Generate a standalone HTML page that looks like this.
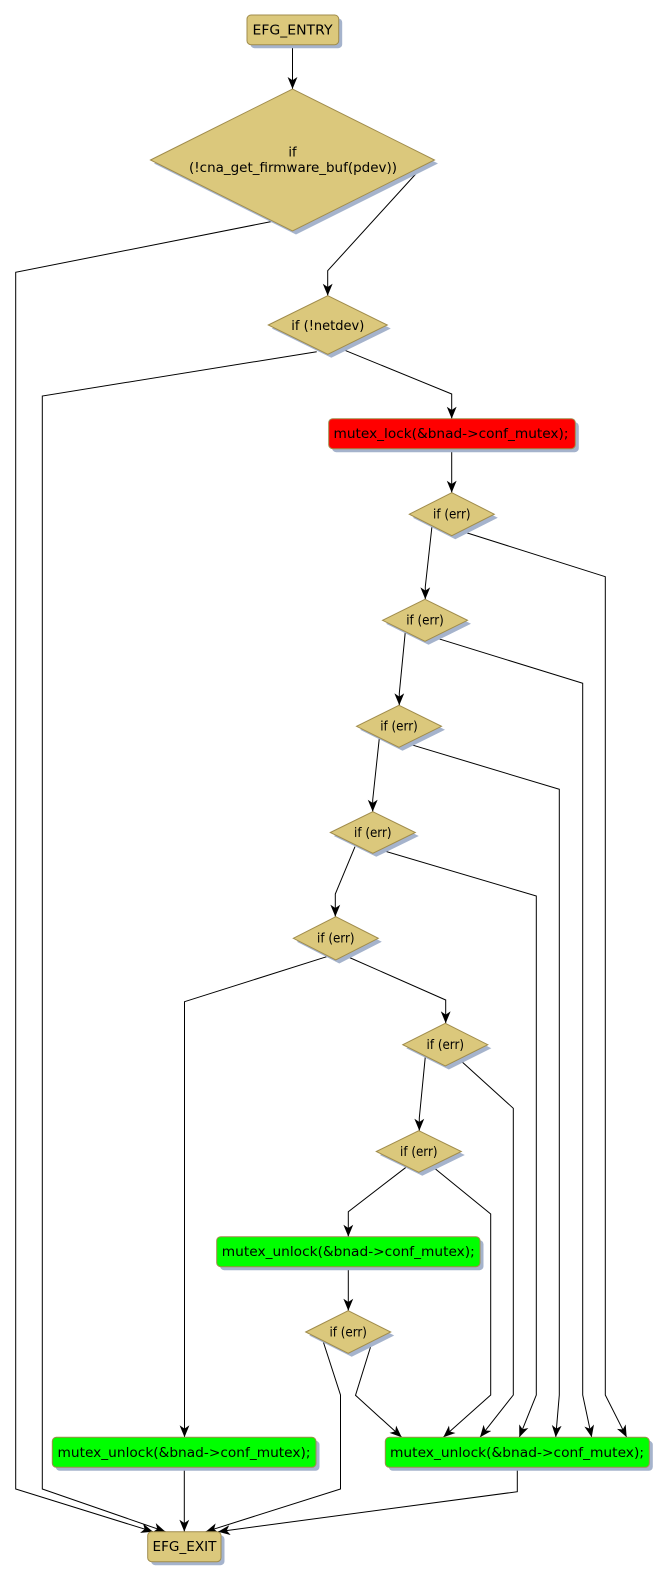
<!DOCTYPE html>
<html>
<head>
<meta charset="utf-8">
<style>
  html, body { margin: 0; padding: 0; background: #ffffff; }
  svg { display: block; }
  text { font-family: "DejaVu Sans", "Liberation Sans", sans-serif; font-size: 13px; fill: #000; }
</style>
</head>
<body>
<svg width="668" height="1580" viewBox="0 0 668 1580" xmlns="http://www.w3.org/2000/svg">
  <defs>
    <marker id="a" markerUnits="userSpaceOnUse" markerWidth="12" markerHeight="10" viewBox="0 0 11 9" refX="11" refY="4.5" orient="auto">
      <path d="M0,0 L11,4.5 L0,9 L3,4.5 z" fill="#000"/>
    </marker>
  </defs>

  <!-- edges -->
  <g fill="none" stroke="#000" stroke-width="1">
    <polyline points="292.5,44.7 292.5,89" marker-end="url(#a)"/>
    <polyline points="423,166 327.7,270.7 327.7,295.7" marker-end="url(#a)"/>
    <polyline points="271.7,221.5 15.7,272.3 15.7,1489 153,1531.7" marker-end="url(#a)"/>
    <polyline points="316.7,351.7 42.3,396 42.3,1489 165.5,1531.7" marker-end="url(#a)"/>
    <polyline points="340,348.3 451.7,394 451.7,418.7" marker-end="url(#a)"/>
    <polyline points="451.7,448.7 451.7,492.7" marker-end="url(#a)"/>
    <polyline points="432,526 425.3,586.7 425.3,599.3" marker-end="url(#a)"/>
    <polyline points="461,531 605.3,576.7 605.3,1395 626.7,1437.3" marker-end="url(#a)"/>
    <polyline points="405.3,631.7 399.3,693.3 399.3,705.3" marker-end="url(#a)"/>
    <polyline points="434,637.3 582.7,683.3 582.7,1395 591.7,1437.3" marker-end="url(#a)"/>
    <polyline points="379.3,738.3 372.7,800 372.7,811.7" marker-end="url(#a)"/>
    <polyline points="406.7,743.3 559.3,789.3 559.3,1395 555.7,1437.3" marker-end="url(#a)"/>
    <polyline points="355,846.7 335.3,894 335.3,916.7" marker-end="url(#a)"/>
    <polyline points="381,850 536.3,896 536.3,1395 519.3,1437.3" marker-end="url(#a)"/>
    <polyline points="326.7,956.7 184.5,1001.7 184.5,1437.3" marker-end="url(#a)"/>
    <polyline points="346,956 445.7,1000 445.7,1023.3" marker-end="url(#a)"/>
    <polyline points="425.3,1056.7 419.3,1118 419.3,1130.7" marker-end="url(#a)"/>
    <polyline points="460,1060 513.3,1108.3 513.3,1395 480,1437.3" marker-end="url(#a)"/>
    <polyline points="406,1167.3 348.3,1211.7 348.3,1236.7" marker-end="url(#a)"/>
    <polyline points="432.7,1166.7 490.7,1214 490.7,1395 443.3,1437.3" marker-end="url(#a)"/>
    <polyline points="348.3,1266.7 348.3,1310.7" marker-end="url(#a)"/>
    <polyline points="322.7,1340 340.5,1395 340.5,1489 205.7,1531.7" marker-end="url(#a)"/>
    <polyline points="372.7,1340 355.5,1395.3 401.7,1437.3" marker-end="url(#a)"/>
    <polyline points="184.3,1467.3 184.3,1531.7" marker-end="url(#a)"/>
    <polyline points="517.3,1467.3 517.3,1491.7 218,1531.7" marker-end="url(#a)"/>
  </g>

  <!-- shadows -->
  <g fill="#a5b3cc" transform="translate(3.5,3.5)">
    <rect x="247" y="15" width="91.7" height="29.7" rx="4"/>
    <polygon points="150.5,160 292.5,89 434.5,160 292.5,231"/>
    <polygon points="268.3,325 327.8,295.7 387.3,325 327.8,354.3"/>
    <rect x="328.7" y="418.7" width="246.6" height="30" rx="4"/>
    <polygon points="409.3,514.2 451.8,492.7 494.3,514.2 451.8,535.7"/>
    <polygon points="382.5,620.3 425,599.3 467.5,620.3 425,641.3"/>
    <polygon points="356.5,726.3 399,705.3 441.5,726.3 399,747.3"/>
    <polygon points="330.3,832.5 372.8,811.7 415.3,832.5 372.8,853.3"/>
    <polygon points="293.3,938.3 335.8,916.7 378.3,938.3 335.8,960"/>
    <polygon points="402.8,1044.7 445.3,1023.3 487.8,1044.7 445.3,1066"/>
    <polygon points="376.3,1151.5 418.8,1130.7 461.3,1151.5 418.8,1172.3"/>
    <rect x="216.7" y="1236.7" width="263.3" height="30" rx="4"/>
    <polygon points="305.7,1332 348.2,1310.7 390.7,1332 348.2,1353.3"/>
    <rect x="52.3" y="1437.3" width="263.7" height="30" rx="4"/>
    <rect x="385.3" y="1437.3" width="264" height="30" rx="4"/>
    <rect x="147.7" y="1531.7" width="73.3" height="30" rx="4"/>
  </g>

  <!-- nodes -->
  <g stroke="#a08c4c" stroke-width="1">
    <rect x="247" y="15" width="91.7" height="29.7" rx="4" fill="#dbc87c"/>
    <polygon points="150.5,160 292.5,89 434.5,160 292.5,231" fill="#dbc87c"/>
    <polygon points="268.3,325 327.8,295.7 387.3,325 327.8,354.3" fill="#dbc87c"/>
    <rect x="328.7" y="418.7" width="246.6" height="30" rx="4" fill="#ff0000"/>
    <polygon points="409.3,514.2 451.8,492.7 494.3,514.2 451.8,535.7" fill="#dbc87c"/>
    <polygon points="382.5,620.3 425,599.3 467.5,620.3 425,641.3" fill="#dbc87c"/>
    <polygon points="356.5,726.3 399,705.3 441.5,726.3 399,747.3" fill="#dbc87c"/>
    <polygon points="330.3,832.5 372.8,811.7 415.3,832.5 372.8,853.3" fill="#dbc87c"/>
    <polygon points="293.3,938.3 335.8,916.7 378.3,938.3 335.8,960" fill="#dbc87c"/>
    <polygon points="402.8,1044.7 445.3,1023.3 487.8,1044.7 445.3,1066" fill="#dbc87c"/>
    <polygon points="376.3,1151.5 418.8,1130.7 461.3,1151.5 418.8,1172.3" fill="#dbc87c"/>
    <rect x="216.7" y="1236.7" width="263.3" height="30" rx="4" fill="#00ff00"/>
    <polygon points="305.7,1332 348.2,1310.7 390.7,1332 348.2,1353.3" fill="#dbc87c"/>
    <rect x="52.3" y="1437.3" width="263.7" height="30" rx="4" fill="#00ff00"/>
    <rect x="385.3" y="1437.3" width="264" height="30" rx="4" fill="#00ff00"/>
    <rect x="147.7" y="1531.7" width="73.3" height="30" rx="4" fill="#dbc87c"/>
  </g>

  <!-- labels -->
  <g text-anchor="middle">
    <text x="292.5" y="34.7" textLength="80" lengthAdjust="spacingAndGlyphs">EFG_ENTRY</text>
    <text x="292.5" y="156.5">if</text>
    <text x="293" y="172" textLength="208" lengthAdjust="spacingAndGlyphs">(!cna_get_firmware_buf(pdev))</text>
    <text x="327.8" y="330" textLength="73" lengthAdjust="spacingAndGlyphs">if (!netdev)</text>
    <text x="451" y="438" textLength="235" lengthAdjust="spacingAndGlyphs">mutex_lock(&amp;bnad-&gt;conf_mutex);</text>
    <text x="451.8" y="518.5" textLength="37.5" lengthAdjust="spacingAndGlyphs">if (err)</text>
    <text x="425" y="624.6" textLength="37.5" lengthAdjust="spacingAndGlyphs">if (err)</text>
    <text x="399" y="730.6" textLength="37.5" lengthAdjust="spacingAndGlyphs">if (err)</text>
    <text x="372.8" y="836.8" textLength="37.5" lengthAdjust="spacingAndGlyphs">if (err)</text>
    <text x="335.8" y="942.6" textLength="37.5" lengthAdjust="spacingAndGlyphs">if (err)</text>
    <text x="445.3" y="1049" textLength="37.5" lengthAdjust="spacingAndGlyphs">if (err)</text>
    <text x="418.8" y="1155.8" textLength="37.5" lengthAdjust="spacingAndGlyphs">if (err)</text>
    <text x="348.3" y="1256.2" textLength="253" lengthAdjust="spacingAndGlyphs">mutex_unlock(&amp;bnad-&gt;conf_mutex);</text>
    <text x="348.2" y="1336.3" textLength="37.5" lengthAdjust="spacingAndGlyphs">if (err)</text>
    <text x="184" y="1456.8" textLength="253" lengthAdjust="spacingAndGlyphs">mutex_unlock(&amp;bnad-&gt;conf_mutex);</text>
    <text x="517" y="1456.8" textLength="254" lengthAdjust="spacingAndGlyphs">mutex_unlock(&amp;bnad-&gt;conf_mutex);</text>
    <text x="184.5" y="1551.2" textLength="64" lengthAdjust="spacingAndGlyphs">EFG_EXIT</text>
  </g>
</svg>
</body>
</html>
